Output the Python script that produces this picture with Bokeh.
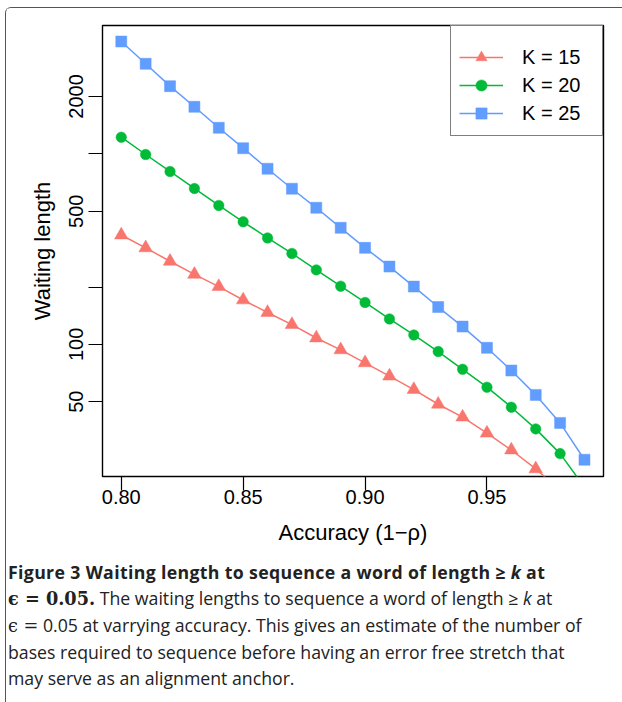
from bokeh.plotting import figure
from bokeh.models import Range1d, FixedTicker, Div
from bokeh.layouts import column
from bokeh.embed import file_html
from bokeh.resources import INLINE

# ---- data ----
accuracy = [0.80, 0.81, 0.82, 0.83, 0.84, 0.85, 0.86, 0.87, 0.88, 0.89,
            0.90, 0.91, 0.92, 0.93, 0.94, 0.95, 0.96, 0.97, 0.98, 0.99]
k15 = [375, 321, 273, 233, 201, 171, 147, 127, 108, 93.6,
       80.0, 68.1, 57.9, 48.5, 41.5, 34.2, 27.9, 22.2, 17.1]
k20 = [1223, 992, 808, 658, 536, 440, 362, 300, 246, 202,
       166, 136, 112, 91.7, 74.0, 59.6, 46.8, 36.0, 26.7, 17.8]
k25 = [3887, 2970, 2266, 1766, 1370, 1071, 835, 656, 521, 409,
       321, 256, 201, 157, 124, 95.9, 72.9, 54.3, 38.7, 24.8]
series_labels = ["K = 15", "K = 20", "K = 25"]
x_ticks = [0.80, 0.85, 0.90, 0.95]
x_tick_labels = ["0.80", "0.85", "0.90", "0.95"]
y_ticks = [50, 100, 200, 500, 1000, 2000]
y_tick_labels = ["50", "100", "", "500", "", "2000"]

colors = ["#F8766D", "#00BA38", "#619CFF"]
markers = ["triangle", "circle", "square"]
sizes = [13.5, 10.5, 11]

p = figure(
    output_backend="svg", toolbar_location=None,
    frame_width=501, frame_height=451,
    min_border_left=96, min_border_right=19, min_border_top=17, min_border_bottom=72,
    x_range=Range1d(0.7923, 0.9978), y_range=Range1d(20.25, 4717),
    y_axis_type="log", background_fill_color="white", border_fill_color="white",
)
p.grid.visible = False
p.outline_line_color = "black"
p.outline_line_width = 1.4

for ys, lab, c, m, s in zip([k15, k20, k25], series_labels, colors, markers, sizes):
    xs = accuracy[:len(ys)]
    p.line(xs, ys, line_color=c, line_width=1.5, legend_label=lab)
    p.scatter(xs, ys, marker=m, size=s, fill_color=c, line_color=c, line_width=0.5, legend_label=lab)

# axes
for ax in (p.xaxis[0], p.yaxis[0]):
    ax.axis_line_color = None
    ax.major_tick_line_color = "black"
    ax.major_tick_line_width = 1.2
    ax.major_tick_in = 0
    ax.major_tick_out = 14
    ax.minor_tick_line_color = None
    ax.major_label_text_font = "Liberation Sans"
    ax.major_label_text_font_size = "20px"
    ax.major_label_text_color = "black"
    ax.axis_label_text_font = "Liberation Sans"
    ax.axis_label_text_font_size = "22px"
    ax.axis_label_text_font_style = "normal"
    ax.axis_label_text_color = "black"

p.xaxis.ticker = FixedTicker(ticks=x_ticks)
p.xaxis.major_label_overrides = dict(zip(x_ticks, x_tick_labels))
p.xaxis.axis_label = "Accuracy (1\u2212\u03c1)"
p.xaxis.major_label_standoff = -1
p.xaxis.axis_label_standoff = 13

p.yaxis.ticker = FixedTicker(ticks=y_ticks)
p.yaxis.major_label_overrides = dict(zip(y_ticks, y_tick_labels))
p.yaxis.major_label_orientation = "vertical"
p.yaxis.axis_label = "Waiting length"
p.yaxis.major_label_standoff = 5
p.yaxis.axis_label_standoff = 12

leg = p.legend[0]
leg.location = "top_right"
leg.margin = 0
leg.padding = 8
leg.spacing = 0
leg.title = " "
leg.title_text_font_size = "1px"
leg.title_standoff = 8
leg.glyph_width = 44
leg.glyph_height = 28
leg.label_height = 28
leg.label_width = 72
leg.label_standoff = 19
leg.label_text_font = "Liberation Sans"
leg.label_text_font_size = "20px"
leg.label_text_color = "black"
leg.border_line_color = "black"
leg.border_line_width = 1.2
leg.background_fill_alpha = 1.0

serif = "font-family:'DejaVu Serif',serif;"
caption = (
    "<div style=\"font-family:'Open Sans',sans-serif;font-size:17.7px;line-height:26px;"
    "color:#222;white-space:nowrap;padding:6px 0 0 0;margin-left:-3px;\">"
    "<b style=\"letter-spacing:0.35px;\">Figure 3 Waiting length to sequence a word of length \u2265 <i>k</i> at</b><br>"
    f"<b><span style=\"{serif}\">\u03f5 = 0.05.</span></b> The waiting lengths to sequence a word of length \u2265 <i>k</i> at<br>"
    f"<span style=\"{serif}\">\u03f5 =</span> 0.05 at varrying accuracy. This gives an estimate of the number of<br>"
    "bases required to sequence before having an error free stretch that<br>"
    "may serve as an alignment anchor."
    "</div>"
)
div = Div(text=caption, width=616, height=148)

layout = column(
    p, div, spacing=0, margin=(7, 0, 0, 5),
    styles={"border-top": "1px solid #555", "border-left": "1px solid #555",
            "border-top-left-radius": "6px"},
)

open("out.html", "w").write(file_html(layout, INLINE))
